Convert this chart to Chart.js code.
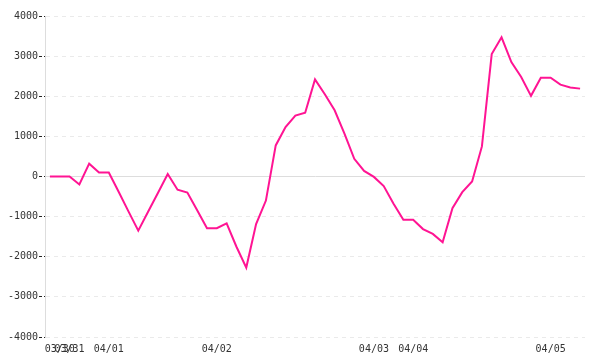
<!DOCTYPE html>
<html>
<head>
<meta charset="utf-8">
<script src="https://cdn.jsdelivr.net/npm/chart.js@4"></script>
<style>
html,body{margin:0;padding:0;background:#fff;}
#c{display:block;}
</style>
</head>
<body>
<canvas id="c" width="600" height="360"></canvas>
<script>
// Category labels (day shown where a new day starts)
const categories = ['', '03/30', '03/31', '', '', '', '04/01', '', '', '', '',
  '', '', '', '', '', '', '04/02', '', '', '', '',
  '', '', '', '', '', '', '', '', '', '',
  '', '04/03', '', '', '', '04/04', '', '', '', '',
  '', '', '', '', '', '', '', '', '', '04/05', '', '', ''];

const values = [0, 0, 0, -200, 320, 100, 100, -380, -870, -1350, -880,
  -410, 60, -330, -400, -840, -1290, -1290, -1170, -1750, -2270, -1185,
  -600, 775, 1230, 1520, 1590, 2420, 2050, 1650, 1070, 440,
  140, -10, -240, -680, -1080, -1080, -1310, -1430, -1640, -790,
  -390, -125, 750, 3050, 3470, 2850, 2480, 2010, 2460, 2460, 2290, 2220, 2190];

const yTicks = [-4000, -3000, -2000, -1000, 0, 1000, 2000, 3000, 4000];

Chart.defaults.font.family = '"DejaVu Sans Mono", monospace';
Chart.defaults.font.size = 10;
Chart.defaults.color = '#333';

new Chart(document.getElementById('c'), {
  type: 'line',
  data: {
    labels: categories,
    datasets: [{
      data: values,
      borderColor: '#ff1493',
      borderWidth: 2,
      pointRadius: 0,
      tension: 0,
      fill: false
    }]
  },
  options: {
    responsive: false,
    animation: false,
    layout: { padding: { top: 16, right: 15, left: 0, bottom: 0 } },
    plugins: { legend: { display: false }, tooltip: { enabled: false } },
    scales: {
      x: {
        offset: true,
        grid: { display: false, drawTicks: false },
        border: { display: false },
        ticks: { autoSkip: false, maxRotation: 0, minRotation: 0, padding: 6 },
        afterFit: s => { s.height = 23; }
      },
      y: {
        min: yTicks[0],
        max: yTicks[yTicks.length - 1],
        afterBuildTicks: s => { s.ticks = yTicks.map(v => ({ value: v })); },
        ticks: { padding: 1, callback: v => String(v) },
        grid: {
          color: c => (c.tick && c.tick.value === 0) ? '#dddddd' : '#eaeaea',
          tickColor: '#222',
          tickLength: 6,
          tickBorderDash: [3, 2]
        },
        border: {
          display: true,
          color: '#dddddd',
          width: 1,
          dash: c => (c.tick && c.tick.value === 0) ? [] : [4, 4]
        },
        afterFit: s => { s.width = 45; }
      }
    }
  }
});
</script>
</body>
</html>
